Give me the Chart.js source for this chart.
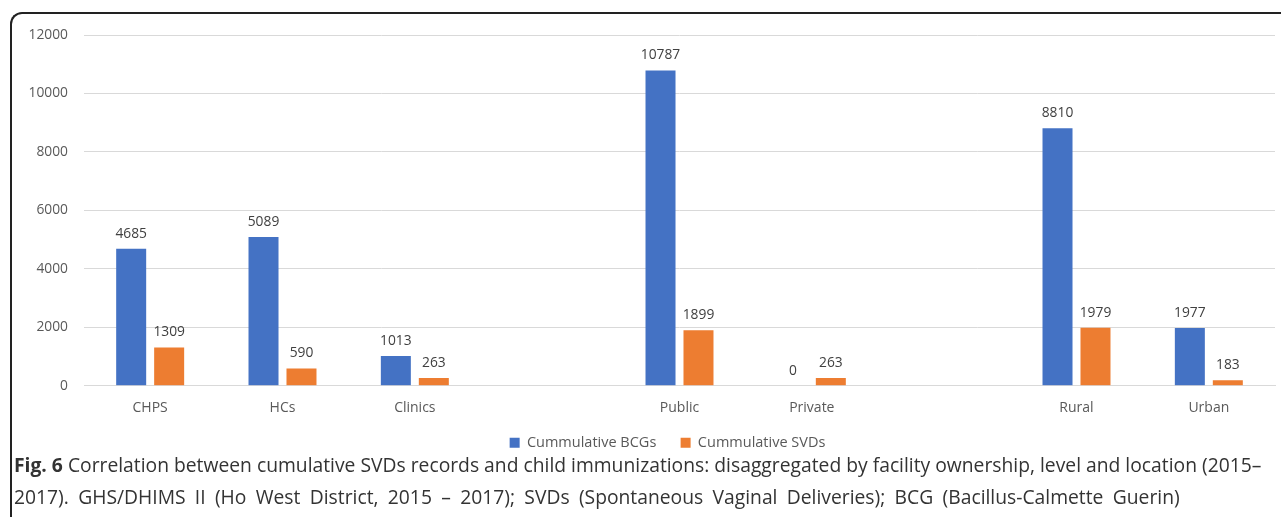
<!DOCTYPE html>
<html>
<head>
<meta charset="utf-8">
<script src="https://cdn.jsdelivr.net/npm/chart.js@4"></script>
<style>
  body { margin: 0; background: #fff; }
  #frame {
    position: absolute; left: 10px; top: 12px; width: 1290px; height: 520px;
    border-left: 2px solid #222; border-top: 2px solid #222; border-top-left-radius: 12px;
  }
  #box { position: absolute; left: 0; top: 0; width: 1281px; height: 464px; }
  #caption {
    position: absolute; left: 14px; top: 449px; width: 1265px;
    font-family: "Open Sans", sans-serif; font-size: 19.3px; line-height: 32px; color: #333;
    white-space: nowrap;
  }
  #caption .l2 { word-spacing: 4.3px; }
</style>
</head>
<body>
<div id="frame"></div>
<div id="box"><canvas id="grafico"></canvas></div>
<div id="caption"><b>Fig. 6</b> Correlation between cumulative SVDs records and child immunizations: disaggregated by facility ownership, level and location (2015–<br><span class="l2">2017). GHS/DHIMS II (Ho West District, 2015 – 2017); SVDs (Spontaneous Vaginal Deliveries); BCG (Bacillus-Calmette Guerin)</span></div>
<script>
// categorias (los huecos vacios separan los grupos)
const categorias = ['CHPS', 'HCs', 'Clinics', '', 'Public', 'Private', '', 'Rural', 'Urban'];
const bcgs = [4685, 5089, 1013, null, 10787, 0, null, 8810, 1977];
const svds = [1309, 590, 263, null, 1899, 263, null, 1979, 183];
const ticksY = [0, 2000, 4000, 6000, 8000, 10000, 12000];

const fuente = '"Open Sans", sans-serif';

// dibuja el valor encima de cada barra
const etiquetas = {
    id: 'etiquetas',
    afterDatasetsDraw(chart) {
        const ctx = chart.ctx;
        ctx.save();
        ctx.font = '13.8px ' + fuente;
        ctx.fillStyle = '#404040';
        ctx.textAlign = 'center';
        ctx.textBaseline = 'bottom';
        chart.data.datasets.forEach((ds, i) => {
            chart.getDatasetMeta(i).data.forEach((bar, j) => {
                const v = ds.data[j];
                if (v === null) return;
                ctx.fillText(String(v), bar.x, bar.y - 8);
            });
        });
        ctx.restore();
    }
};

// mueve la leyenda un poco a la derecha, como en la figura
const moverLeyenda = {
    id: 'moverLeyenda',
    afterLayout(chart) {
        chart.legend.left += 30;
        chart.legend.right += 30;
    }
};

var ctx = document.getElementById('grafico').getContext('2d');
var grafico = new Chart(ctx, {
    type: 'bar',
    data: {
        labels: categorias,
        datasets: [{
            label: 'Cummulative BCGs',
            data: bcgs,
            backgroundColor: '#4472C4',
            categoryPercentage: 0.574,
            barPercentage: 0.79
        }, {
            label: 'Cummulative SVDs',
            data: svds,
            backgroundColor: '#ED7D31',
            categoryPercentage: 0.574,
            barPercentage: 0.79
        }]
    },
    options: {
        responsive: true,
        maintainAspectRatio: false,
        animation: false,
        layout: { padding: { top: 35, right: 6, left: 0, bottom: 4 } },
        plugins: {
            legend: {
                position: 'bottom',
                labels: {
                    boxWidth: 10, boxHeight: 10, padding: 13,
                    color: '#595959',
                    font: { family: fuente, size: 14.5 },
                    // un poco mas de espacio entre los dos elementos
                    generateLabels: (chart) => {
                        const items = Chart.defaults.plugins.legend.labels.generateLabels(chart);
                        items[0].text += '   ';
                        return items;
                    }
                }
            },
            tooltip: { enabled: false }
        },
        scales: {
            x: {
                grid: { display: false },
                border: { color: '#d9d9d9' },
                ticks: {
                    color: '#595959', padding: 6,
                    font: { family: fuente, size: 14 }
                }
            },
            y: {
                min: 0, max: 12000,
                afterBuildTicks: (axis) => { axis.ticks = ticksY.map(v => ({ value: v })); },
                afterFit: (axis) => { axis.width = 84; },
                grid: { color: '#d9d9d9', drawTicks: false },
                border: { display: false },
                ticks: {
                    color: '#595959', padding: 16,
                    callback: (v) => String(v),
                    font: { family: fuente, size: 13.8 }
                }
            }
        }
    },
    plugins: [etiquetas, moverLeyenda]
});
</script>
</body>
</html>
